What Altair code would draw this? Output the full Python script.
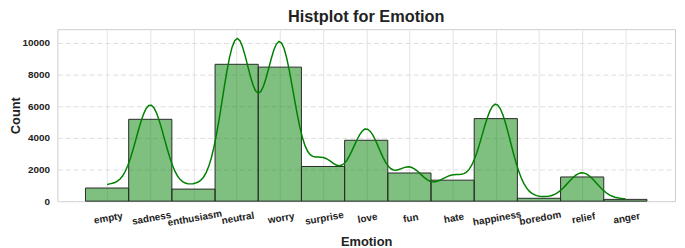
import numpy as np
import pandas as pd
import altair as alt

# ---- data ----
categories = ["empty", "sadness", "enthusiasm", "neutral", "worry", "surprise", "love",
              "fun", "hate", "happiness", "boredom", "relief", "anger"]
counts = [827, 5165, 759, 8638, 8459, 2187, 3842, 1776, 1323, 5209, 179, 1526, 110]
y_ticks = [0, 2000, 4000, 6000, 8000, 10000]

codes = np.arange(len(categories))
bars = pd.DataFrame({
    "category": categories,
    "code": codes,
    "lo": codes - 0.5,
    "hi": codes + 0.5,
    "count": counts,
})

# KDE of the category codes weighted by their counts
# (as seaborn histplot(kde=True): Scott bandwidth, cut=0, 200 grid points, scaled to counts)
w = np.array(counts, dtype=float)
n = w.sum()
mean = (codes * w).sum() / n
var = (((codes - mean) ** 2) * w).sum() / (n - 1)
bw = np.sqrt(var) * n ** (-1 / 5)
grid = np.linspace(codes.min(), codes.max(), 200)
dens = (w[None, :] * np.exp(-0.5 * ((grid[:, None] - codes[None, :]) / bw) ** 2)).sum(1) / (n * bw * np.sqrt(2 * np.pi))
kde = pd.DataFrame({"x": grid, "y": dens * n})

FONT = "Liberation Sans"
TXT = "#222222"

xscale = alt.Scale(domain=[-1.15, 13.15], nice=False, zero=False)
yscale = alt.Scale(domain=[0, 10855], nice=False)
label_expr = "[" + ",".join(f"'{c}'" for c in categories) + "][datum.value]"

xaxis = alt.Axis(
    values=[int(c) for c in codes], labelExpr=label_expr, title="Emotion",
    labelAngle=-10, labelAlign="center", labelBaseline="top", labelPadding=12,
    labelOverlap=False, labelFlush=False, labelBound=False,
    titlePadding=8, grid=True, gridColor="#e3e3e3", gridWidth=1,
)
yaxis = alt.Axis(
    values=y_ticks, format="d", title="Count", labelPadding=8,
    titleX=-48, titleY=87, titleAngle=270, titleBaseline="top", titleAlign="center",
    grid=True, gridColor="#dddddd", gridDash=[5, 3], gridWidth=1,
)

bar = alt.Chart(bars).mark_bar(
    fill="#008000", fillOpacity=0.5, stroke="#2a2a2a", strokeWidth=1, strokeOpacity=1
).encode(
    x=alt.X("lo:Q", scale=xscale, axis=xaxis),
    x2="hi:Q",
    y=alt.Y("count:Q", scale=yscale, axis=yaxis),
    y2=alt.datum(0),
)

line = alt.Chart(kde).mark_line(color="#008000", strokeWidth=1.5).encode(
    x=alt.X("x:Q", scale=xscale, axis=xaxis),
    y=alt.Y("y:Q", scale=yscale, axis=yaxis),
)

chart = alt.layer(bar, line).properties(
    width=625, height=174,
    title=alt.TitleParams("Histplot for Emotion", fontSize=16.5, fontWeight="bold",
                          font=FONT, color=TXT, offset=4, anchor="middle"),
    padding={"left": 50, "top": 20, "right": 2, "bottom": 46},
    autosize=alt.AutoSizeParams(type="none"),
).configure_view(
    stroke="#cccccc", strokeWidth=1
).configure_axis(
    labelFont=FONT, labelFontWeight="bold", labelFontSize=10, labelColor=TXT,
    titleFont=FONT, titleFontWeight="bold", titleFontSize=13, titleColor=TXT,
    domain=False, ticks=False,
)

chart.save("out.html", embed_options={"renderer": "svg", "actions": False})
